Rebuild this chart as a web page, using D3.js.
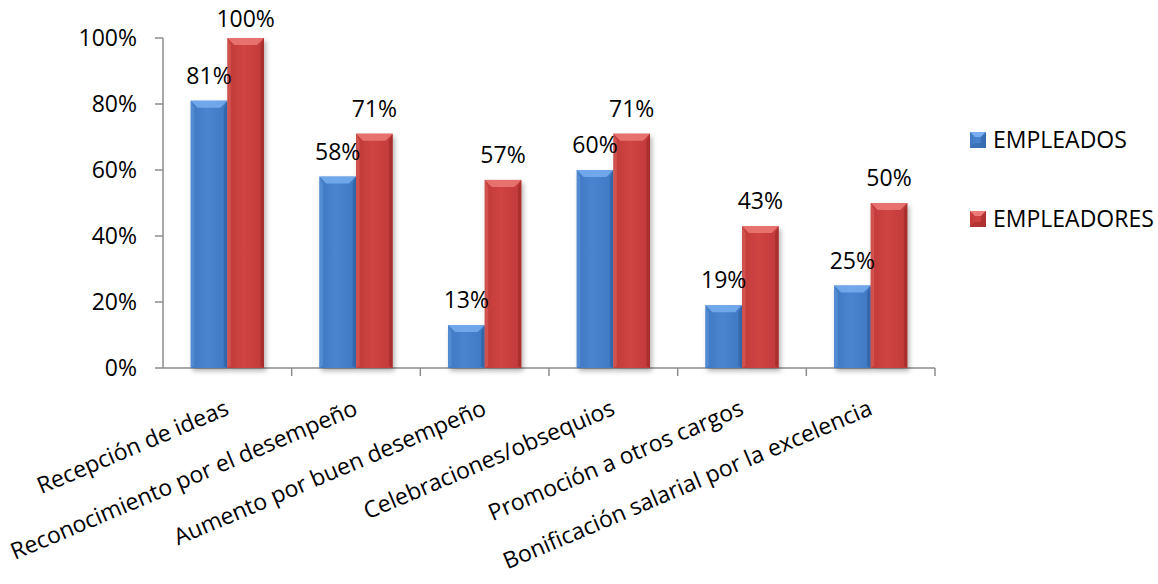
<!DOCTYPE html>
<html>
<head>
<meta charset="utf-8">
<script src="https://cdn.jsdelivr.net/npm/d3@7"></script>
<style>
  body { margin: 0; background: #fff; }
  svg { display: block; font-family: "Open Sans", sans-serif; }
</style>
</head>
<body>
<div id="chart"></div>
<script>
// Categories and values (percent)
const categories = [
  "Recepción de ideas",
  "Reconocimiento por el desempeño",
  "Aumento por buen desempeño",
  "Celebraciones/obsequios",
  "Promoción a otros cargos",
  "Bonificación salarial por la excelencia"
];
const empleados = [81, 58, 13, 60, 19, 25];
const empleadores = [100, 71, 57, 71, 43, 50];
const yTicks = [0, 20, 40, 60, 80, 100];

const seriesNames = ["EMPLEADOS", "EMPLEADORES"];
const seriesValues = [empleados, empleadores];

const width = 1158, height = 584;
const margin = { top: 38, left: 163, right: 223, bottom: 216 };
const plotRight = width - margin.right;
const plotBottom = height - margin.bottom;
const fontSize = 23;
const axisColor = "#8c8c8c";

// fill, light bevel, dark edge for each series
const palette = [
  { base: "#3f78c2", mid: "#4a84cf", light: "#78aef0", dark: "#2e5f9e" },
  { base: "#c03a38", mid: "#cf4442", light: "#ec7a76", dark: "#982826" }
];

const svg = d3.select("#chart")
  .append("svg")
  .attr("width", width)
  .attr("height", height);

const defs = svg.append("defs");

palette.forEach((p, i) => {
  const g = defs.append("linearGradient")
    .attr("id", `body-${i}`)
    .attr("x1", "0").attr("x2", "1").attr("y1", "0").attr("y2", "0");
  g.append("stop").attr("offset", "0%").attr("stop-color", p.base);
  g.append("stop").attr("offset", "45%").attr("stop-color", p.mid);
  g.append("stop").attr("offset", "100%").attr("stop-color", p.base);
});

const shadow = defs.append("filter")
  .attr("id", "shadow")
  .attr("x", "-20%").attr("y", "-20%")
  .attr("width", "150%").attr("height", "150%");
shadow.append("feDropShadow")
  .attr("dx", 2).attr("dy", 3)
  .attr("stdDeviation", 2.5)
  .attr("flood-color", "#000")
  .attr("flood-opacity", 0.3);

// Scales (page coordinates)
const x0 = d3.scaleBand()
  .domain(categories)
  .range([margin.left, plotRight])
  .paddingInner(0.43)
  .paddingOuter(0.215);

const x1 = d3.scaleBand()
  .domain(seriesNames)
  .range([0, x0.bandwidth()]);

const y = d3.scaleLinear()
  .domain([0, 100])
  .range([plotBottom, margin.top]);

const step = (plotRight - margin.left) / categories.length;

// Y axis
const yAxis = svg.append("g");
yAxis.append("line")
  .attr("x1", margin.left).attr("x2", margin.left)
  .attr("y1", y(100)).attr("y2", y(0))
  .attr("stroke", axisColor).attr("stroke-width", 1.5);
yAxis.selectAll(".ytick")
  .data(yTicks)
  .join("line")
  .attr("class", "ytick")
  .attr("x1", margin.left - 8).attr("x2", margin.left)
  .attr("y1", d => y(d)).attr("y2", d => y(d))
  .attr("stroke", axisColor).attr("stroke-width", 1.5);
yAxis.selectAll(".ylabel")
  .data(yTicks)
  .join("text")
  .attr("class", "ylabel")
  .attr("x", margin.left - 26)
  .attr("y", d => y(d))
  .attr("dy", "0.35em")
  .attr("text-anchor", "end")
  .attr("font-size", fontSize)
  .attr("fill", "#000")
  .text(d => d + "%");

// X axis: ticks at category boundaries
const boundaries = d3.range(1, categories.length + 1).map(i => margin.left + i * step);
const xAxis = svg.append("g");
xAxis.append("line")
  .attr("x1", margin.left).attr("x2", plotRight)
  .attr("y1", plotBottom).attr("y2", plotBottom)
  .attr("stroke", axisColor).attr("stroke-width", 1.5);
xAxis.selectAll(".xtick")
  .data(boundaries)
  .join("line")
  .attr("class", "xtick")
  .attr("x1", d => d).attr("x2", d => d)
  .attr("y1", plotBottom).attr("y2", plotBottom + 8)
  .attr("stroke", axisColor).attr("stroke-width", 1.5);

// Rotated category labels
const labelX = d => x0(d) + x0.bandwidth() / 2 + 3;
const labelY = plotBottom + 46;
xAxis.selectAll(".xlabel")
  .data(categories)
  .join("text")
  .attr("class", "xlabel")
  .attr("x", labelX)
  .attr("y", labelY)
  .attr("text-anchor", "end")
  .attr("font-size", fontSize)
  .attr("fill", "#000")
  .attr("transform", d => `rotate(-23,${labelX(d)},${labelY})`)
  .text(d => d);

// Flatten to one record per bar
const barData = categories.flatMap((cat, ci) => seriesNames.map((s, si) => ({
  cat, series: s, si, value: seriesValues[si][ci]
})));

const barX = d => x0(d.cat) + x1(d.series);

// Bars with bevelled edges
const bevel = 7;
const bars = svg.append("g").selectAll(".bar")
  .data(barData)
  .join("g")
  .attr("class", "bar")
  .attr("transform", d => `translate(${barX(d)},${y(d.value)})`);

bars.append("rect")
  .attr("width", x1.bandwidth())
  .attr("height", d => y(0) - y(d.value))
  .attr("fill", d => `url(#body-${d.si})`)
  .attr("filter", "url(#shadow)");

// top bevel
bars.append("path")
  .attr("d", d => {
    const w = x1.bandwidth();
    return `M0,0H${w}L${w - bevel},${bevel}H${bevel}Z`;
  })
  .attr("fill", d => palette[d.si].light)
  .attr("opacity", 0.85);

// left and right edges
bars.append("path")
  .attr("d", d => {
    const h = y(0) - y(d.value);
    return `M0,0L${bevel * 0.5},${bevel}V${Math.max(bevel, h - 2)}L0,${h}Z`;
  })
  .attr("fill", d => palette[d.si].light)
  .attr("opacity", 0.35);
bars.append("path")
  .attr("d", d => {
    const w = x1.bandwidth();
    const h = y(0) - y(d.value);
    return `M${w},0L${w - bevel * 0.5},${bevel}V${Math.max(bevel, h - 2)}L${w},${h}Z`;
  })
  .attr("fill", d => palette[d.si].dark)
  .attr("opacity", 0.6);

// Value labels, drawn above all bars and kept inside the chart area
svg.append("g").selectAll(".value")
  .data(barData)
  .join("text")
  .attr("class", "value")
  .attr("x", d => barX(d) + x1.bandwidth() / 2)
  .attr("y", d => Math.max(y(d.value) - 17, 27))
  .attr("text-anchor", "middle")
  .attr("font-size", fontSize)
  .attr("fill", "#000")
  .text(d => d.value + "%");

// Legend
const legendX = 970, legendY = 132, legendGap = 79;
const legend = svg.append("g");
legend.selectAll(".swatch")
  .data(seriesNames)
  .join("rect")
  .attr("class", "swatch")
  .attr("x", legendX)
  .attr("y", (d, i) => legendY + i * legendGap)
  .attr("width", 16).attr("height", 16)
  .attr("fill", (d, i) => `url(#body-${i})`);
legend.selectAll(".swatch-top")
  .data(seriesNames)
  .join("path")
  .attr("class", "swatch-top")
  .attr("d", (d, i) => {
    const y0 = legendY + i * legendGap;
    return `M${legendX},${y0}h16l-5,5h-6Z`;
  })
  .attr("fill", (d, i) => palette[i].light);
legend.selectAll(".swatch-edge")
  .data(seriesNames)
  .join("path")
  .attr("class", "swatch-edge")
  .attr("d", (d, i) => {
    const y0 = legendY + i * legendGap;
    return `M${legendX + 16},${y0}v16h-16l5,-5h6v-6Z`;
  })
  .attr("fill", (d, i) => palette[i].dark)
  .attr("opacity", 0.5);
legend.selectAll(".legend-text")
  .data(seriesNames)
  .join("text")
  .attr("class", "legend-text")
  .attr("x", legendX + 23)
  .attr("y", (d, i) => legendY + i * legendGap + 16)
  .attr("font-size", fontSize)
  .attr("fill", "#000")
  .text(d => d);
</script>
</body>
</html>
